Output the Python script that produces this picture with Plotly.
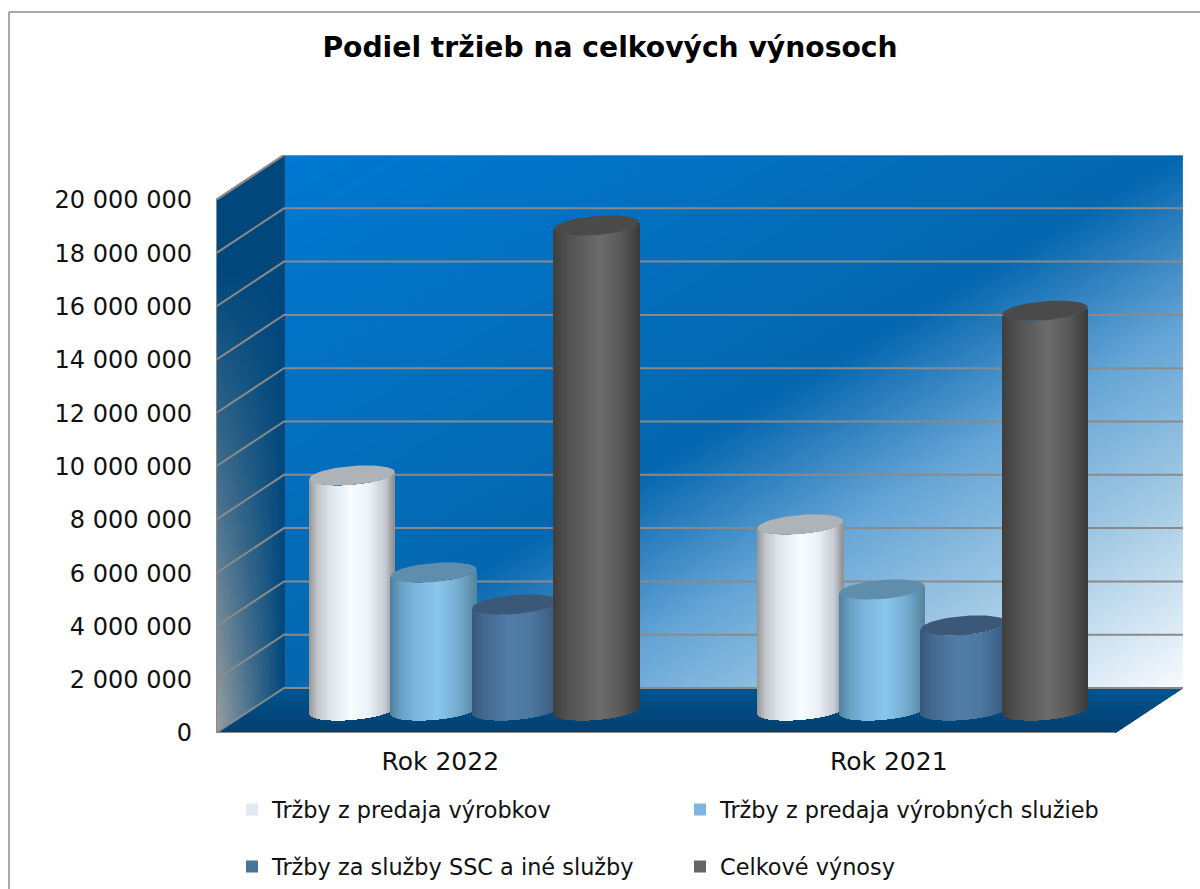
import numpy as np
import plotly.graph_objects as go

# ---- data
categories = ["Rok 2022", "Rok 2021"]
series_names = ["Tržby z predaja výrobkov", "Tržby z predaja výrobných služieb",
                "Tržby za služby SSC a iné služby", "Celkové výnosy"]
vyrobky = [8820000, 6980000]
vyrobne_sluzby = [5180000, 4540000]
sluzby_ssc = [3980000, 3190000]
celkove_vynosy = [18200000, 15000000]
tick_values = [0, 2000000, 4000000, 6000000, 8000000, 10000000, 12000000, 14000000, 16000000, 18000000, 20000000]
tick_labels = ["0", "2 000 000", "4 000 000", "6 000 000", "8 000 000", "10 000 000",
               "12 000 000", "14 000 000", "16 000 000", "18 000 000", "20 000 000"]
title_text = "Podiel tržieb na celkových výnosoch"

# ---- styles
FONT = "DejaVu Sans"
body_stops = [
    [(0, "#959696"), (.1, "#c3c6c9"), (.25, "#dfe4ee"), (.5, "#f8fdff"), (.7, "#eef2f8"), (.9, "#c6c9d3"), (1, "#8e9090")],
    [(0, "#4f7f9e"), (.12, "#6a9fc4"), (.3, "#7db5de"), (.55, "#88c6ec"), (.8, "#75abcf"), (1, "#55849f")],
    [(0, "#38587c"), (.15, "#44698f"), (.45, "#517da7"), (.7, "#4c779f"), (1, "#385a80")],
    [(0, "#3e3e3e"), (.2, "#535353"), (.55, "#6b6b6b"), (.8, "#585858"), (1, "#3a3a3a")],
]
top_colors = ["#aeb3b7", "#5f8dac", "#3c5878", "#4a4a4a"]
legend_colors = ["#e3e9f3", "#7db5de", "#4a739c", "#666666"]
wall_stops = [(0, "#0079d2"), (.5, "#0467af"), (.56, "#2a7dbd"), (.66, "#65a5d6"), (.82, "#a5cbe5"), (1, "#f8fbff")]
GRID = "#8a8a8a"

# ---- pseudo-3D scale: one category = 448.5 px, 1e6 = 26.65 px
PX_X = 1 / 448.5
PX_Y = 1e6 / 26.65
DX = 68 * PX_X          # depth of the box, in x units
DY = 45 * PX_Y          # depth of the box, in y units
X_MAX = 967 * PX_X
Y_MAX = 578 * PX_Y
BAR_STEP = 81.5 * PX_X
BAR_W = 85.5 * PX_X
ELL_B = 9.5 * PX_Y
ELL_T = 3.5 * PX_Y
Y_TOP = tick_values[-1]


def hex2rgb(h):
    return np.array([int(h[i:i + 2], 16) for i in (1, 3, 5)], float)


def ramp(stops, t):
    ts = [s[0] for s in stops]
    cs = np.array([hex2rgb(s[1]) for s in stops])
    return "#%02x%02x%02x" % tuple(int(round(np.interp(t, ts, cs[:, i]))) for i in range(3))


fig = go.Figure()

# back wall
wx = np.linspace(DX, X_MAX, 110)
wy = np.linspace(DY, DY + Y_TOP, 80)
u = (wx - DX) / (X_MAX - DX)
v = 1 - (wy - DY) / Y_TOP
wz = 0.5 * u[None, :] + 0.5 * v[:, None]
fig.add_trace(go.Heatmap(x=wx, y=wy, z=wz, zmin=0, zmax=1, zsmooth="best", showscale=False, hoverinfo="skip",
                         colorscale=[[s, c] for s, c in wall_stops]))

# side wall
lx = np.linspace(0, DX, 30)
ly = np.linspace(0, Y_MAX, 80)
f = np.clip(1 - (ly - 0) / (17.5e6), 0, 1)
lz = (1 - lx[None, :] / DX) * f[:, None]
fig.add_trace(go.Heatmap(x=lx, y=ly, z=lz, zmin=0, zmax=1, zsmooth="best", showscale=False, hoverinfo="skip",
                         colorscale=[[0, "#00477c"], [1, "#9aa0a2"]]))

# white mask above the slanted top edge of the side wall
fig.add_trace(go.Scatter(x=[0, DX, 0, 0], y=[Y_TOP, Y_MAX, Y_MAX, Y_TOP], mode="lines", fill="toself",
                         fillcolor="white", line=dict(width=0), hoverinfo="skip", showlegend=False))

# floor, as thin bands running dark towards the front
N_BANDS = 18
for i in range(N_BANDS):
    a, b = i / N_BANDS, (i + 1) / N_BANDS
    col = ramp([(0, "#00406f"), (.5, "#004a80"), (1, "#00558f")], (i + .5) / N_BANDS)
    fig.add_trace(go.Scatter(x=[a * DX, X_MAX - DX + a * DX, X_MAX - DX + b * DX, b * DX, a * DX],
                             y=[a * DY, a * DY, b * DY, b * DY, a * DY], mode="lines", fill="toself",
                             fillcolor=col, line=dict(width=1, color=col), hoverinfo="skip", showlegend=False))

# gridlines on the back wall and on the side wall
gx, gy = [], []
for t in tick_values:
    gx += [0, DX, X_MAX, None]
    gy += [t, t + DY, t + DY, None]
fig.add_trace(go.Scatter(x=gx, y=gy, mode="lines", line=dict(color=GRID, width=2), hoverinfo="skip", showlegend=False))

# box outline
fig.add_trace(go.Scatter(x=[X_MAX - DX, 0, 0, DX, X_MAX], y=[0, 0, Y_TOP, Y_MAX, Y_MAX], mode="lines",
                         line=dict(color=GRID, width=2), hoverinfo="skip", showlegend=False))

# cylinders: one overlaid axis pair per series so later series paint over earlier ones
all_values = [vyrobky, vyrobne_sluzby, sluzby_ssc, celkove_vynosy]
N_STRIPS = 86
for s, values in enumerate(all_values):
    ax = s + 2
    xs, bases, heights, cols, widths = [], [], [], [], []
    tx, ty = [], []
    for c, val in enumerate(values):
        center = c + 0.5 + DX / 2 + (s - 1.5) * BAR_STEP
        base_y = DY / 2
        top_y = val + DY / 2
        for k in range(N_STRIPS):
            t = (k + .5) / N_STRIPS
            un = 2 * t - 1
            lower = ELL_T * un - ELL_B * np.sqrt(1 - un * un)
            xs.append(center + un * BAR_W / 2)
            bases.append(base_y + lower)
            heights.append(val)
            cols.append(ramp(body_stops[s], t))
            widths.append(BAR_W / N_STRIPS * 1.05)
        th = np.linspace(0, 2 * np.pi, 73)
        tx += list(center + np.cos(th) * BAR_W / 2) + [None]
        ty += list(top_y + ELL_T * np.cos(th) + ELL_B * np.sin(th)) + [None]
    fig.add_trace(go.Bar(x=xs, y=heights, base=bases, width=widths, marker=dict(color=cols, line=dict(width=0)),
                         xaxis=f"x{ax}", yaxis=f"y{ax}", hoverinfo="skip", showlegend=False))
    fig.add_trace(go.Scatter(x=tx, y=ty, mode="lines", fill="toself", fillcolor=top_colors[s],
                             line=dict(width=0), xaxis=f"x{ax}", yaxis=f"y{ax}", hoverinfo="skip", showlegend=False))
    fig.layout[f"xaxis{ax}"] = dict(overlaying="x", range=[0, X_MAX], visible=False, fixedrange=True)
    fig.layout[f"yaxis{ax}"] = dict(overlaying="y", range=[0, Y_MAX], visible=False, fixedrange=True)

# legend: one legend box per entry, laid out in two rows and two columns
legend_xy = [(232, 810), (680, 810), (232, 867), (680, 867)]
for i, name in enumerate(series_names):
    key = "legend" if i == 0 else f"legend{i + 1}"
    fig.add_trace(go.Scatter(x=[None], y=[None], mode="markers", name=name, legend=key,
                             marker=dict(symbol="square", size=12, color=legend_colors[i])))
    fig.layout[key] = dict(xref="container", yref="container", x=legend_xy[i][0] / 1200,
                           y=1 - legend_xy[i][1] / 889, xanchor="left", yanchor="middle",
                           bgcolor="rgba(0,0,0,0)", borderwidth=0, itemclick=False, itemdoubleclick=False,
                           font=dict(family=FONT, size=22.4, color="#111111"))

fig.update_layout(
    width=1200, height=889, margin=dict(l=216, r=17, t=155, b=156, autoexpand=False),
    paper_bgcolor="white", plot_bgcolor="white", barmode="overlay", bargap=0,
    hovermode=False,
    title=dict(text=f"<b>{title_text}</b>", x=610 / 1200, xanchor="center", y=1 - 47 / 889, yanchor="middle",
               font=dict(family=FONT, size=28.2, color="black")),
    xaxis=dict(range=[0, X_MAX], tickvals=[.5, 1.5], ticktext=categories, showgrid=False, zeroline=False,
               showline=False, ticks="", ticklabelstandoff=11, tickfont=dict(family=FONT, size=25, color="#111111"),
               fixedrange=True),
    yaxis=dict(range=[0, Y_MAX], tickvals=tick_values, ticktext=tick_labels, showgrid=False, zeroline=False,
               showline=False, ticks="", ticklabelstandoff=23, tickfont=dict(family=FONT, size=24, color="#111111"),
               fixedrange=True),
    shapes=[
        dict(type="line", xref="paper", yref="paper", x0=(9 - 216) / 967, x1=(1200 - 216) / 967,
             y0=(733 - 12) / 578, y1=(733 - 12) / 578, line=dict(color="#8c8c8c", width=1.5)),
        dict(type="line", xref="paper", yref="paper", x0=(9 - 216) / 967, x1=(9 - 216) / 967,
             y0=(733 - 12) / 578, y1=(733 - 889) / 578, line=dict(color="#8c8c8c", width=1.5)),
    ],
)

fig.write_html("out.html", config={"displayModeBar": False},
               post_script="document.body.style.margin='0';document.body.style.overflow='hidden';")
